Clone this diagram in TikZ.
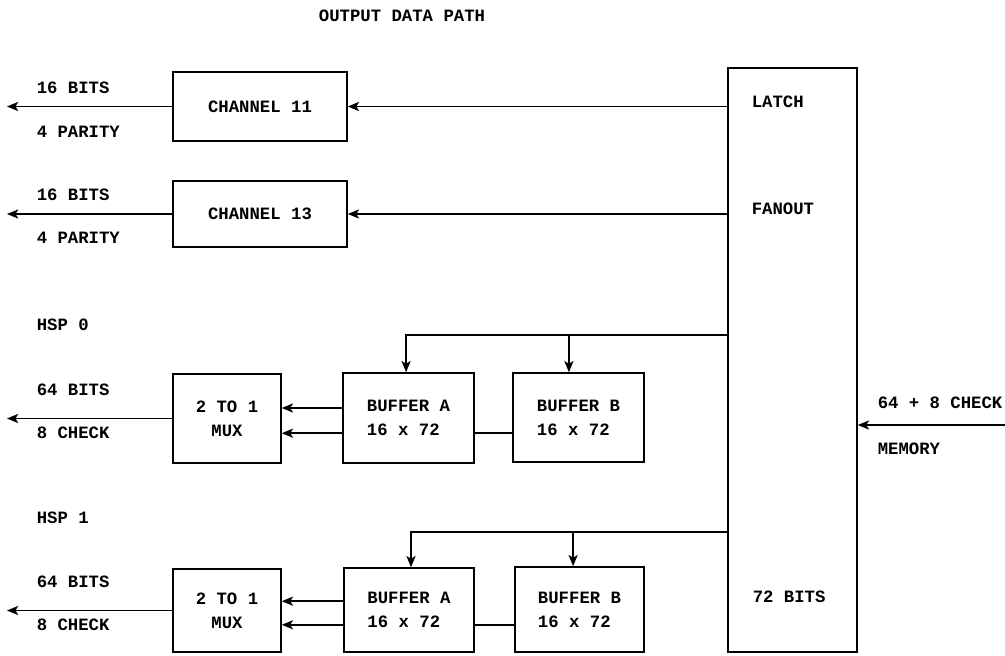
\documentclass[tikz,border=0pt]{standalone}
\usepackage{fontspec}
\setmainfont{Liberation Mono}
\usetikzlibrary{arrows.meta}

\begin{document}
\begin{tikzpicture}[x=0.025cm, y=-0.025cm, line width=1.1pt,
    font=\fontsize{12.3}{17}\selectfont\bfseries,
    box/.style={draw, inner sep=0pt},
    lbl/.style={anchor=west, inner sep=0pt},
    >={Stealth[length=8pt, width=6.5pt, inset=2pt]}]
    \useasboundingbox (0,0) rectangle (1005,656);

    \node (title) at (402,16) {OUTPUT DATA PATH};

    % Latch / fanout
    \node[box, minimum width=3.225cm, minimum height=14.6cm] (latch) at (792.5,360) {};
    \node[lbl] (tlatch) at (751,102) {LATCH};
    \node[lbl] (tfan) at (751,209) {FANOUT};
    \node[lbl] (t72) at (752,597) {72 BITS};

    % Memory input
    \coordinate (mem) at (1005,425);
    \draw[->] (mem) -- (mem -| latch.east);
    \node[lbl] (tmem1) at (877,403) {64 + 8 CHECK};
    \node[lbl] (tmem2) at (877,449) {MEMORY};

    \coordinate (edge) at (7,0);

    % Channels
    \node[box, minimum width=4.35cm, minimum height=1.725cm] (ch11) at (260,106.5) {CHANNEL 11};
    \node[box, minimum width=4.35cm, minimum height=1.65cm] (ch13) at (260,214) {CHANNEL 13};
    \draw[->] (ch11.east -| latch.west) -- (ch11.east);
    \draw[->] (ch13.east -| latch.west) -- (ch13.east);
    \draw[->] (ch11.west) -- (ch11.west -| edge);
    \draw[->] (ch13.west) -- (ch13.west -| edge);
    \node[lbl] (b11) at (36,88) {16 BITS};
    \node[lbl] (p11) at (36,132) {4 PARITY};
    \node[lbl] (b13) at (36,195) {16 BITS};
    \node[lbl] (p13) at (36,238) {4 PARITY};

    % HSP 0
    \node[lbl] (hspz) at (36,325) {HSP 0};
    \node[box, minimum width=2.7cm, minimum height=2.225cm, align=center] (mux0) at (227,418.5) {2 TO 1\\MUX};
    \node[box, minimum width=3.275cm, minimum height=2.25cm, align=left] (bufA0) at (408.5,418) {BUFFER A\\16 x 72};
    \node[box, minimum width=3.275cm, minimum height=2.225cm, align=left] (bufB0) at (578.5,417.5) {BUFFER B\\16 x 72};
    \coordinate (hsp0) at (0,335);
    \draw[->] (latch.west |- hsp0) -| ([xshift=-0.06cm]bufA0.north);
    \draw[->] ([xshift=-0.24cm]bufB0.north |- hsp0) -- ([xshift=-0.24cm]bufB0.north);
    \draw[->] ([yshift=0.25cm]bufA0.west) -- ([yshift=0.25cm]bufA0.west -| mux0.east);
    \draw[->] ([yshift=-0.38cm]bufA0.west) -- ([yshift=-0.38cm]bufA0.west -| mux0.east);
    \draw ([yshift=-0.38cm]bufA0.east) -- ([yshift=-0.38cm]bufA0.east -| bufB0.west);
    \draw[->] (mux0.west) -- (mux0.west -| edge);
    \node[lbl] (b0) at (36,390) {64 BITS};
    \node[lbl] (c0) at (36,433) {8 CHECK};

    % HSP 1
    \node[lbl] (hspo) at (36,518) {HSP 1};
    \node[box, minimum width=2.7cm, minimum height=2.075cm, align=center] (mux1) at (227,610.5) {2 TO 1\\MUX};
    \node[box, minimum width=3.25cm, minimum height=2.1cm, align=left] (bufA1) at (409,610) {BUFFER A\\16 x 72};
    \node[box, minimum width=3.225cm, minimum height=2.125cm, align=left] (bufB1) at (579.5,609.5) {BUFFER B\\16 x 72};
    \coordinate (hsp1) at (0,532);
    \draw[->] (latch.west |- hsp1) -| ([xshift=0.05cm]bufA1.north);
    \draw[->] ([xshift=-0.16cm]bufB1.north |- hsp1) -- ([xshift=-0.16cm]bufB1.north);
    \draw[->] ([yshift=0.22cm]bufA1.west) -- ([yshift=0.22cm]bufA1.west -| mux1.east);
    \draw[->] ([yshift=-0.37cm]bufA1.west) -- ([yshift=-0.37cm]bufA1.west -| mux1.east);
    \draw ([yshift=-0.37cm]bufA1.east) -- ([yshift=-0.37cm]bufA1.east -| bufB1.west);
    \draw[->] (mux1.west) -- (mux1.west -| edge);
    \node[lbl] (b1) at (36,582) {64 BITS};
    \node[lbl] (c1) at (36,625) {8 CHECK};
\end{tikzpicture}
\end{document}
